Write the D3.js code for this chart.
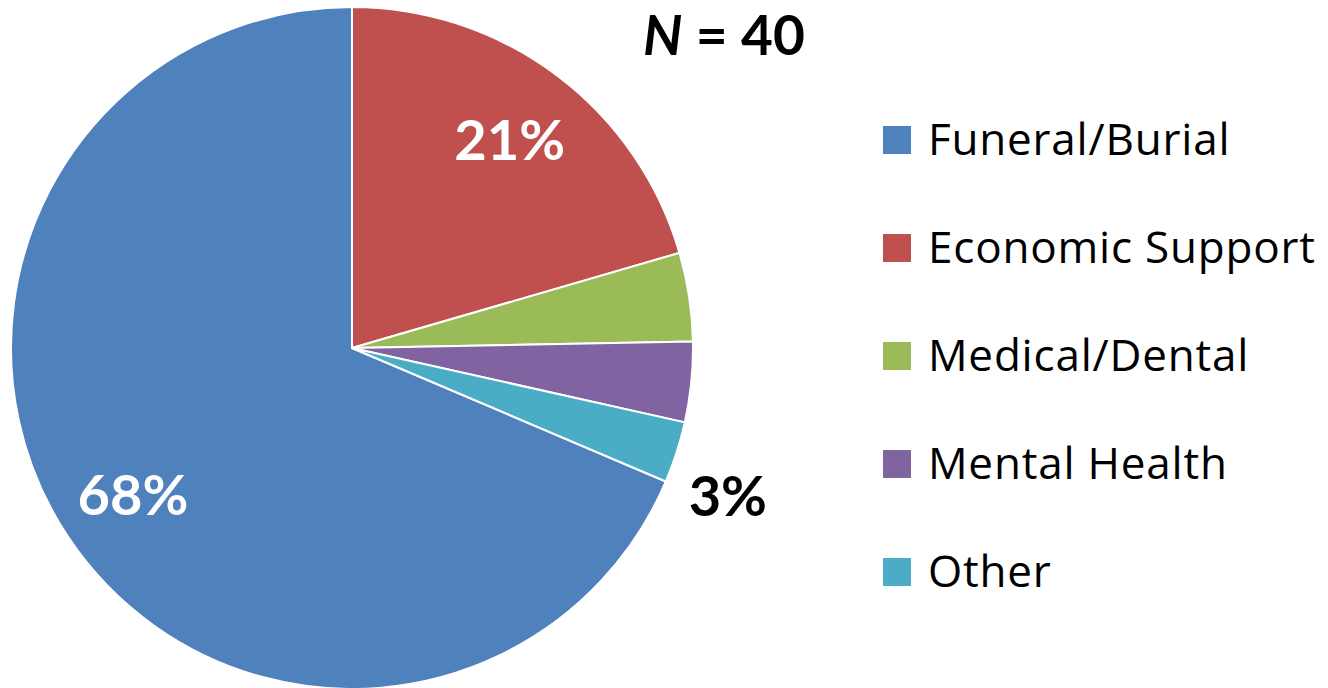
<!DOCTYPE html>
<html>
<head>
<meta charset="utf-8">
<script src="https://cdn.jsdelivr.net/npm/d3@7"></script>
<style>
  html, body { margin: 0; padding: 0; background: #fff; }
  svg { display: block; }
</style>
</head>
<body>
<div id="chart"></div>
<script>
// values (share of N = 40, in %)
var categories = ["Funeral/Burial", "Economic Support", "Medical/Dental", "Mental Health", "Other"];
var values = [68.6, 20.5, 4.2, 3.8, 2.9];
var sliceLabels = ["68%", "21%", null, null, "3%"];
var colors = ["#4F81BD", "#C0504D", "#9BBB59", "#8064A2", "#4BACC6"];

var svgWidth = 1328, svgHeight = 688;
var cx = 352, cy = 348, radius = 341;
var font = "Lato, 'Open Sans', sans-serif";
var legendFont = "'Open Sans', Lato, sans-serif";

var svg = d3.select("#chart").append("svg")
    .attr("width", svgWidth)
    .attr("height", svgHeight);

// first slice ends at 12 o'clock, the others follow clockwise from there
var total = d3.sum(values);
var start = -2 * Math.PI * values[0] / total;
var pie = d3.pie().sort(null).value(function(d) { return d; })
    .startAngle(start)
    .endAngle(start + 2 * Math.PI);
var arcs = pie(values);

var arc = d3.arc().innerRadius(0).outerRadius(radius);
var labelArc = d3.arc().innerRadius(radius * 0.77).outerRadius(radius * 0.77);
var edgeArc = d3.arc().innerRadius(radius).outerRadius(radius);

var g = svg.append("g")
    .attr("transform", "translate(" + cx + "," + cy + ")");

g.selectAll("path.slice")
    .data(arcs)
    .enter()
    .append("path")
    .attr("class", "slice")
    .attr("d", arc)
    .attr("fill", function(d, i) { return colors[i]; })
    .attr("stroke", "#fff")
    .attr("stroke-width", 2)
    .attr("stroke-linejoin", "round");

// labels: big slices get white text inside, the small one sits outside in black
arcs.forEach(function(d, i) {
    if (!sliceLabels[i]) return;
    var inside = values[i] > 10;
    var p = inside ? labelArc.centroid(d) : edgeArc.centroid(d);
    g.append("text")
        .attr("x", inside ? p[0] : p[0] + 12)
        .attr("y", inside ? p[1] + 22 : p[1] + 64)
        .attr("text-anchor", inside ? "middle" : "start")
        .attr("font-family", font)
        .attr("font-weight", "bold")
        .attr("font-size", 56)
        .attr("fill", inside ? "#fff" : "#000")
        .text(sliceLabels[i]);
});

// N = 40
var title = svg.append("text")
    .attr("x", 643)
    .attr("y", 55)
    .attr("font-family", font)
    .attr("font-weight", "bold")
    .attr("font-size", 55)
    .attr("fill", "#000");
title.append("tspan").attr("font-style", "italic").text("N");
title.append("tspan").text(" = 40");

// legend
var legend = svg.append("g")
    .attr("transform", "translate(883,140)");

var rows = legend.selectAll("g.row")
    .data(categories)
    .enter()
    .append("g")
    .attr("class", "row")
    .attr("transform", function(d, i) { return "translate(0," + (i * 108) + ")"; });

rows.append("rect")
    .attr("x", 0)
    .attr("y", -14)
    .attr("width", 28)
    .attr("height", 28)
    .attr("fill", function(d, i) { return colors[i]; });

rows.append("text")
    .attr("x", 45)
    .attr("y", 15)
    .attr("font-family", legendFont)
    .attr("font-size", 44)
    .attr("letter-spacing", 0.8)
    .attr("fill", "#000")
    .text(function(d) { return d; });
</script>
</body>
</html>
